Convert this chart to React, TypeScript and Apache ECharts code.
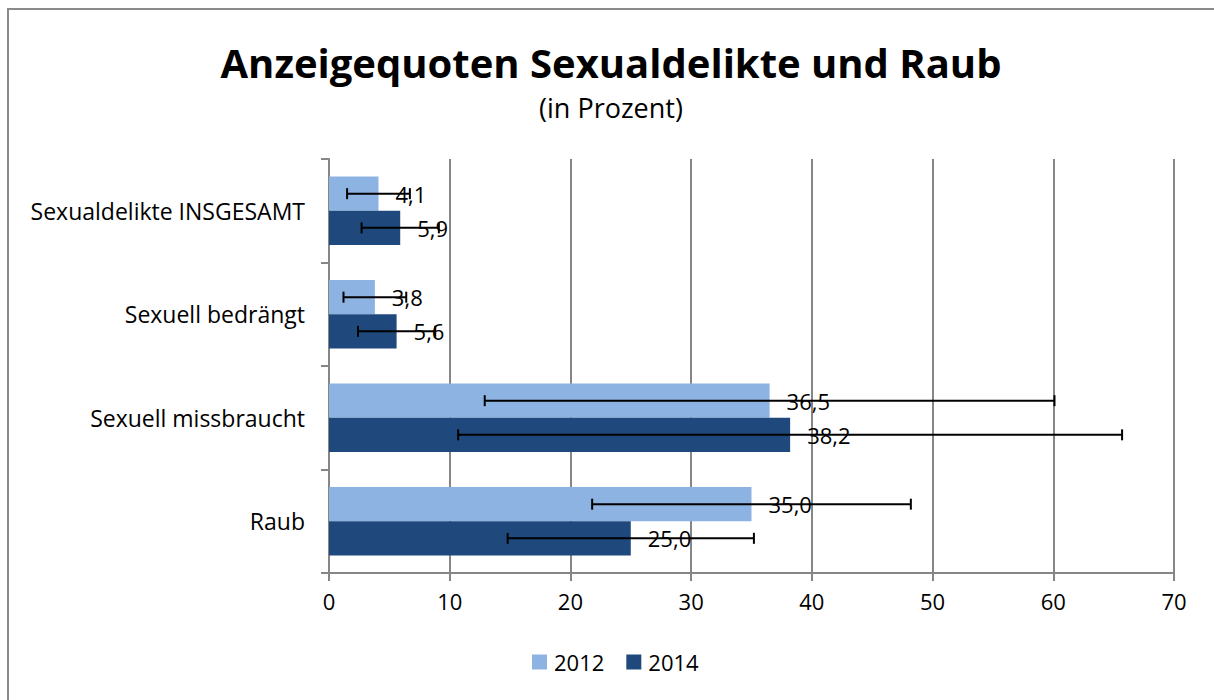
import React, { useEffect, useRef } from "react";
import * as echarts from "echarts";

const categories = ["Sexualdelikte INSGESAMT", "Sexuell bedrängt", "Sexuell missbraucht", "Raub"];
const seriesNames = ["2012", "2014"];
const values2012 = [4.1, 3.8, 36.5, 35.0];
const values2014 = [5.9, 5.6, 38.2, 25.0];
const errors2012 = [2.6, 2.6, 23.6, 13.2];
const errors2014 = [3.2, 3.2, 27.5, 10.2];

const LIGHT = "#8DB3E2";
const DARK = "#1F497D";
const FONT = "'Open Sans', 'DejaVu Sans', sans-serif";
const GAP = 0.34;

function errorSeries(name: string, vals: number[], errs: number[], side: number) {
  return {
    type: "custom",
    name: name + "_err",
    z: 10,
    silent: true,
    data: vals.map((v, i) => [v - errs[i], v + errs[i], i]),
    encode: { x: [0, 1], y: 2 },
    renderItem: (params: any, api: any) => {
      const lo = api.coord([api.value(0), api.value(2)]);
      const hi = api.coord([api.value(1), api.value(2)]);
      const band = api.size([0, 1])[1];
      const bw = (band * (1 - GAP)) / 2;
      const y = lo[1] + (side * bw) / 2;
      const capH = 5.5;
      const style = { stroke: "#000", lineWidth: 2 };
      return {
        type: "group",
        children: [
          { type: "line", shape: { x1: lo[0], y1: y, x2: hi[0], y2: y }, style },
          { type: "line", shape: { x1: lo[0], y1: y - capH, x2: lo[0], y2: y + capH }, style },
          { type: "line", shape: { x1: hi[0], y1: y - capH, x2: hi[0], y2: y + capH }, style },
        ],
      };
    },
  };
}

export default function App() {
  const ref = useRef<HTMLDivElement>(null);
  useEffect(() => {
    if (!ref.current) return;
    const chart = echarts.init(ref.current, null, { renderer: "svg" });
    const labelFmt = (p: any) => Number(p.value).toFixed(1).replace(".", ",");
    const barLabel = {
      show: true,
      position: "right",
      distance: 17,
      fontSize: 22,
      color: "#000",
      formatter: labelFmt,
      fontFamily: FONT,
    };
    chart.setOption({
      animation: false,
      backgroundColor: "#fff",
      textStyle: { fontFamily: FONT },
      title: [
        {
          text: "Anzeigequoten Sexualdelikte und Raub",
          left: "center",
          top: 29,
          textStyle: { fontSize: 40, fontWeight: "bold", color: "#000", fontFamily: FONT },
        },
        {
          text: "(in Prozent)",
          left: "center",
          top: 81,
          textStyle: { fontSize: 27, fontWeight: "normal", color: "#000", fontFamily: FONT },
        },
      ],
      legend: {
        data: seriesNames,
        bottom: 14,
        left: 519,
        itemWidth: 15,
        itemHeight: 15,
        itemGap: 22,
        icon: "rect",
        textStyle: { fontSize: 22, color: "#000", fontFamily: FONT, padding: [0, 0, 0, 2] },
      },
      grid: { left: 321, top: 151, width: 845, height: 414 },
      xAxis: {
        type: "value",
        min: 0,
        max: 70,
        interval: 10,
        axisLine: { show: true, lineStyle: { color: "#868686", width: 2 } },
        axisTick: { show: true, length: 8, lineStyle: { color: "#868686", width: 2 } },
        axisLabel: { fontSize: 22, color: "#000", margin: 17, fontFamily: FONT },
        splitLine: { show: true, lineStyle: { color: "#868686", width: 2 } },
      },
      yAxis: {
        type: "category",
        data: categories,
        inverse: true,
        axisLine: { show: true, lineStyle: { color: "#868686", width: 2 } },
        axisTick: { show: true, length: 8, lineStyle: { color: "#868686", width: 2 } },
        axisLabel: { fontSize: 23, color: "#000", margin: 24, fontFamily: FONT },
      },
      series: [
        {
          type: "bar",
          name: seriesNames[0],
          data: values2012,
          itemStyle: { color: LIGHT },
          barGap: "0%",
          barCategoryGap: GAP * 100 + "%",
          label: barLabel,
        },
        {
          type: "bar",
          name: seriesNames[1],
          data: values2014,
          itemStyle: { color: DARK },
          barGap: "0%",
          barCategoryGap: GAP * 100 + "%",
          label: barLabel,
        },
        errorSeries(seriesNames[0], values2012, errors2012, -1),
        errorSeries(seriesNames[1], values2014, errors2014, 1),
      ],
    });
    return () => chart.dispose();
  }, []);
  return (
    <div style={{ position: "fixed", left: 0, top: 0, width: 1214, height: 700, overflow: "hidden", background: "#fff" }}>
      <div ref={ref} style={{ position: "absolute", left: 8, top: 8, width: 1206, height: 684 }} />
      <div
        style={{
          position: "absolute",
          left: 7,
          top: 8,
          width: 1300,
          height: 800,
          border: "2px solid #8a8a8a",
          boxSizing: "border-box",
          pointerEvents: "none",
        }}
      />
    </div>
  );
}
